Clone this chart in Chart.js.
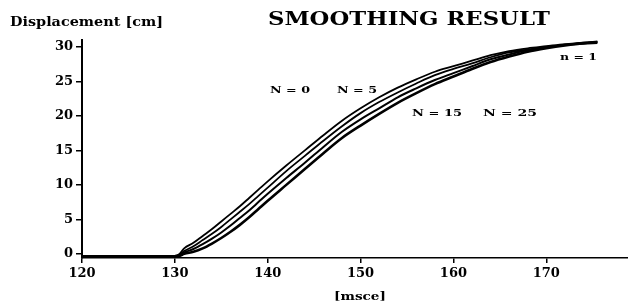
<!DOCTYPE html>
<html>
<head>
<meta charset="utf-8">
<script src="https://cdn.jsdelivr.net/npm/chart.js@4.4.1/dist/chart.umd.min.js"></script>
<style>
  body { margin: 0; background: #fff; }
  #wrap { width: 628px; height: 307px; position: relative; }
</style>
</head>
<body>
<div id="wrap"><canvas id="myChart"></canvas></div>
<script>
// time in msec
const times = [120, 125, 129, 130, 130.5, 131, 132, 133, 134, 135, 136, 137, 138, 139, 140, 142, 144, 146, 148, 150, 152, 154, 156, 158, 160, 162, 164, 166, 168, 170, 172, 174, 175.5];

// displacement [cm] for each smoothing level
const n0  = [-0.3, -0.3, -0.3, -0.3, 0.0, 0.8, 1.6, 2.6, 3.6, 4.7, 5.8, 6.9, 8.1, 9.3, 10.5, 12.8, 15.0, 17.2, 19.3, 21.1, 22.7, 24.1, 25.3, 26.4, 27.2, 28.0, 28.8, 29.4, 29.8, 30.1, 30.4, 30.6, 30.8];
const n5  = [-0.3, -0.3, -0.3, -0.3, -0.1, 0.4, 1.1, 2.0, 2.9, 3.9, 5.0, 6.1, 7.2, 8.4, 9.6, 12.0, 14.2, 16.4, 18.5, 20.4, 22.0, 23.4, 24.7, 25.9, 26.8, 27.6, 28.5, 29.2, 29.6, 30.0, 30.3, 30.6, 30.7];
const n15 = [-0.35, -0.35, -0.35, -0.3, -0.2, 0.2, 0.7, 1.4, 2.2, 3.1, 4.1, 5.2, 6.3, 7.5, 8.7, 11.0, 13.2, 15.5, 17.7, 19.5, 21.1, 22.7, 24.0, 25.2, 26.2, 27.2, 28.2, 28.9, 29.5, 29.9, 30.3, 30.5, 30.7];
const n25 = [-0.4, -0.4, -0.4, -0.35, -0.3, 0.0, 0.3, 0.8, 1.5, 2.3, 3.2, 4.2, 5.3, 6.5, 7.7, 10.0, 12.3, 14.6, 16.8, 18.6, 20.3, 21.9, 23.3, 24.6, 25.7, 26.8, 27.8, 28.6, 29.3, 29.8, 30.2, 30.5, 30.6];

const xTicks = [120, 130, 140, 150, 160, 170];
const yTicks = [0, 5, 10, 15, 20, 25, 30];

// text labels: [text, left x, center y, width, font size]
const labels = [
    ['SMOOTHING RESULT', 268, 20, 282, 18],
    ['Displacement [cm]', 10, 23, 153, 13],
    ['N = 0', 270, 90, 40, 10],
    ['N = 5', 337, 90, 40, 10],
    ['N = 15', 412, 113, 50, 10],
    ['N = 25', 483, 113, 54, 10],
    ['n = 1', 560, 57, 37, 10],
    ['[msce]', 334, 297, 52, 11]
];

function toPoints(ys) {
    let pts = [];
    for (let i = 0; i < times.length; i++) {
        pts.push({ x: times[i], y: ys[i] });
    }
    return pts;
}

function series(ys, width) {
    return {
        data: toPoints(ys),
        borderColor: '#000',
        borderWidth: width,
        pointRadius: 0,
        cubicInterpolationMode: 'monotone',
        fill: false
    };
}

// draws the free texts, stretched to the width they have in the scan
const textPlugin = {
    id: 'texts',
    afterDraw(chart) {
        const ctx = chart.ctx;
        labels.forEach(function (l) {
            ctx.save();
            ctx.font = 'bold ' + l[4] + 'px "DejaVu Serif"';
            ctx.fillStyle = '#000';
            ctx.textBaseline = 'middle';
            let w = ctx.measureText(l[0]).width;
            ctx.translate(l[1], l[2]);
            ctx.scale(l[3] / w, 1);
            ctx.fillText(l[0], 0, 0);
            ctx.restore();
        });
    }
};

const tickFont = { family: '"DejaVu Serif"', size: 13, weight: 'bold' };

const ctx = document.getElementById('myChart').getContext('2d');
const myChart = new Chart(ctx, {
    type: 'line',
    data: {
        datasets: [
            series(n0, 1.8),
            series(n5, 1.8),
            series(n15, 2),
            series(n25, 2.6)
        ]
    },
    options: {
        responsive: true,
        maintainAspectRatio: false,
        animation: false,
        layout: { padding: { top: 40, right: 0, bottom: 0, left: 0 } },
        plugins: {
            legend: { display: false },
            tooltip: { enabled: false }
        },
        scales: {
            x: {
                type: 'linear',
                min: 120,
                max: 178.8,
                afterBuildTicks: function (axis) {
                    axis.ticks = xTicks.map(v => ({ value: v }));
                },
                afterFit: function (axis) { axis.height = 49; },
                border: { display: true, color: '#000', width: 1.5 },
                grid: { drawOnChartArea: false, drawTicks: true, tickLength: 5, color: '#000', lineWidth: 1.5 },
                ticks: { color: '#000', font: tickFont, padding: 3, maxRotation: 0 }
            },
            y: {
                min: -0.6,
                max: 31,
                afterBuildTicks: function (axis) {
                    axis.ticks = yTicks.map(v => ({ value: v }));
                },
                afterFit: function (axis) { axis.width = 82; },
                border: { display: true, color: '#000', width: 2 },
                grid: { drawOnChartArea: false, drawTicks: true, tickLength: 6, color: '#000', lineWidth: 1.5 },
                ticks: { color: '#000', font: tickFont, padding: 3 }
            }
        }
    },
    plugins: [textPlugin]
});
</script>
</body>
</html>
